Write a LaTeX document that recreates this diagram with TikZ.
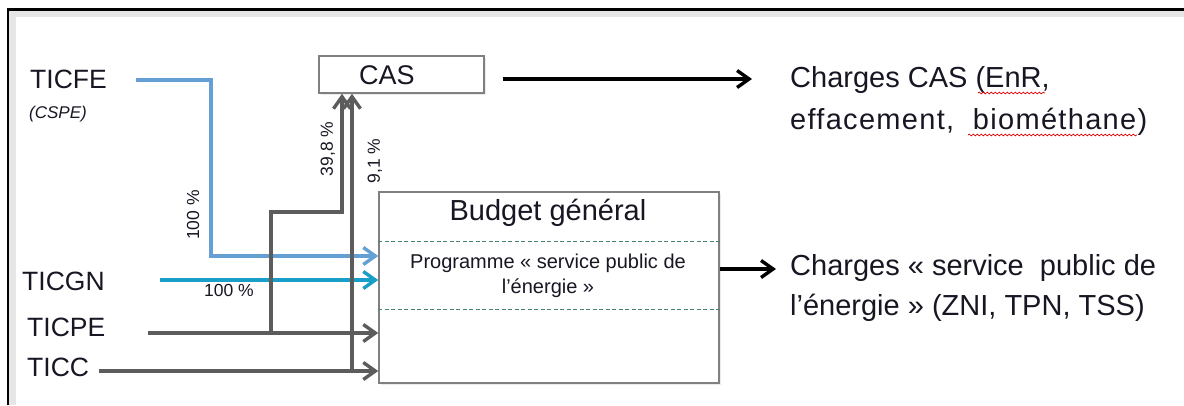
\documentclass[tikz,border=0pt]{standalone}
\usepackage{fontspec}
\setmainfont{Liberation Sans}
\usetikzlibrary{arrows.meta,decorations.pathmorphing,shadows}
\definecolor{lblue}{RGB}{100,160,212}
\definecolor{cblue}{RGB}{25,158,200}
\definecolor{dgray}{RGB}{92,92,92}
\definecolor{bgray}{RGB}{128,128,128}
\definecolor{framegray}{RGB}{230,230,230}
\definecolor{dashgreen}{RGB}{70,130,115}
\definecolor{txt}{RGB}{25,22,35}
\newcommand{\fsz}[2]{\fontsize{#1}{#2}\selectfont}
\begin{document}
\begin{tikzpicture}[x=1pt,y=-1pt,
  lab/.style={inner sep=0pt, text=txt},
  tiplab/.style={lab, font=\fsz{26.5}{30}},
  pct/.style={lab, font=\fsz{17.5}{20}},
  arrowtip/.style={-{Straight Barb[length=12pt,width=17pt]}},
  flow/.style={line width=3.4pt, arrowtip},
  box/.style={draw=bgray, line width=1.5pt, fill=white, inner sep=0pt,
    drop shadow={shadow xshift=2pt, shadow yshift=-2pt, fill=black!15}},
  sep/.style={dashgreen, line width=1pt, dash pattern=on 4pt off 2.5pt},
  spell/.style={red!85!black, line width=0.7pt, decorate,
    decoration={snake, amplitude=0.9pt, segment length=4pt}}
]
\useasboundingbox (0,0) rectangle (1184,405);
% frame
\fill[framegray] (8,9) rectangle (1184,405);
\fill[white] (16,17) rectangle (1184,405);
\draw[black, line width=2.5pt] (8,405) -- (8,9.25) -- (1184,9.25);

% source labels
\node[tiplab, anchor=west] (ticfe) at (30,79) {TICFE};
\node[lab, anchor=west, font=\fsz{17}{20}\itshape] (cspe) at (29,114) {(CSPE)};
\node[tiplab, anchor=west] (ticgn) at (22,281) {TICGN};
\node[tiplab, anchor=west] (ticpe) at (27,327) {TICPE};
\node[tiplab, anchor=west] (ticc) at (27,367) {TICC};

% boxes
\node[box, minimum width=165pt, minimum height=37pt] (cas) at (401.5,74.5) {};
\node[lab, font=\fsz{27}{30}] (castxt) at (387,75) {CAS};
\node[box, minimum width=340pt, minimum height=191pt] (bg) at (549,287.5) {};
\node[lab, font=\fsz{29}{32}] (bgtitle) at (548,213) {Budget général};
\node[lab, font=\fsz{20}{25}, align=center] (prog) at (548,275.5)
  {Programme « service public de\\l'énergie »};
\coordinate (d1) at (0,241);
\coordinate (d2) at (0,309);
\draw[sep] (bg.west |- d1) -- (bg.east |- d1);
\draw[sep] (bg.west |- d2) -- (bg.east |- d2);

% outputs
\node[lab, anchor=west, align=left, font=\fsz{29}{42}] (chcas) at (790,101)
  {Charges CAS (EnR,\\{\addfontfeature{LetterSpace=4.5}effacement, \ biométhane)}};
\node[lab, anchor=west, align=left, font=\fsz{29}{40}] (chsp) at (790,287.5)
  {Charges « service \ public de\\l’énergie » (ZNI, TPN, TSS)};
\draw[spell] (978,93) -- (1045,93);
\draw[spell] (968,135) -- (1137,135);

% connectors
\coordinate (k212) at (0,212);
\coordinate (xa) at (271,0);
\coordinate (xb) at (342,0);
\coordinate (xc) at (352,0);
\coordinate (k256) at (0,256);
\coordinate (fe0) at ([shift={(29,1)}]ticfe.east);
\coordinate (pe0) at ([shift={(43,6)}]ticpe.east);
\coordinate (cc0) at ([shift={(10,4)}]ticc.east);

\draw[flow, lblue] (fe0) -- ++(75,0) |- (bg.west |- k256);
\draw[flow, cblue] ([shift={(55,-1)}]ticgn.east) -- ([shift={(0,-1)}]bg.west |- ticgn.east);
\draw[flow, dgray] (pe0) -- (bg.west |- pe0);
\draw[flow, dgray] (cc0) -- (bg.west |- cc0);
\draw[flow, dgray] (pe0 -| xa) |- (xb |- k212) -- (cas.south -| xb);
\draw[flow, dgray] (cc0 -| xc) -- (cas.south -| xc);

\draw[flow, black] ([shift={(18,4.5)}]cas.east) -- ([shift={(-38,-22)}]chcas.west);
\draw[flow, black] ([shift={(0,-18.5)}]bg.east) -- ([shift={(-14,-18.5)}]chsp.west);

% percentages
\node[pct, rotate=90] (p1) at (193,215) {100 \%};
\node[pct] (p2) at (229,290) {100 \%};
\node[pct, rotate=90] (p3) at (328,149) {39,8 \%};
\node[pct, rotate=90] (p4) at (375,161) {9,1 \%};
\end{tikzpicture}
\end{document}
